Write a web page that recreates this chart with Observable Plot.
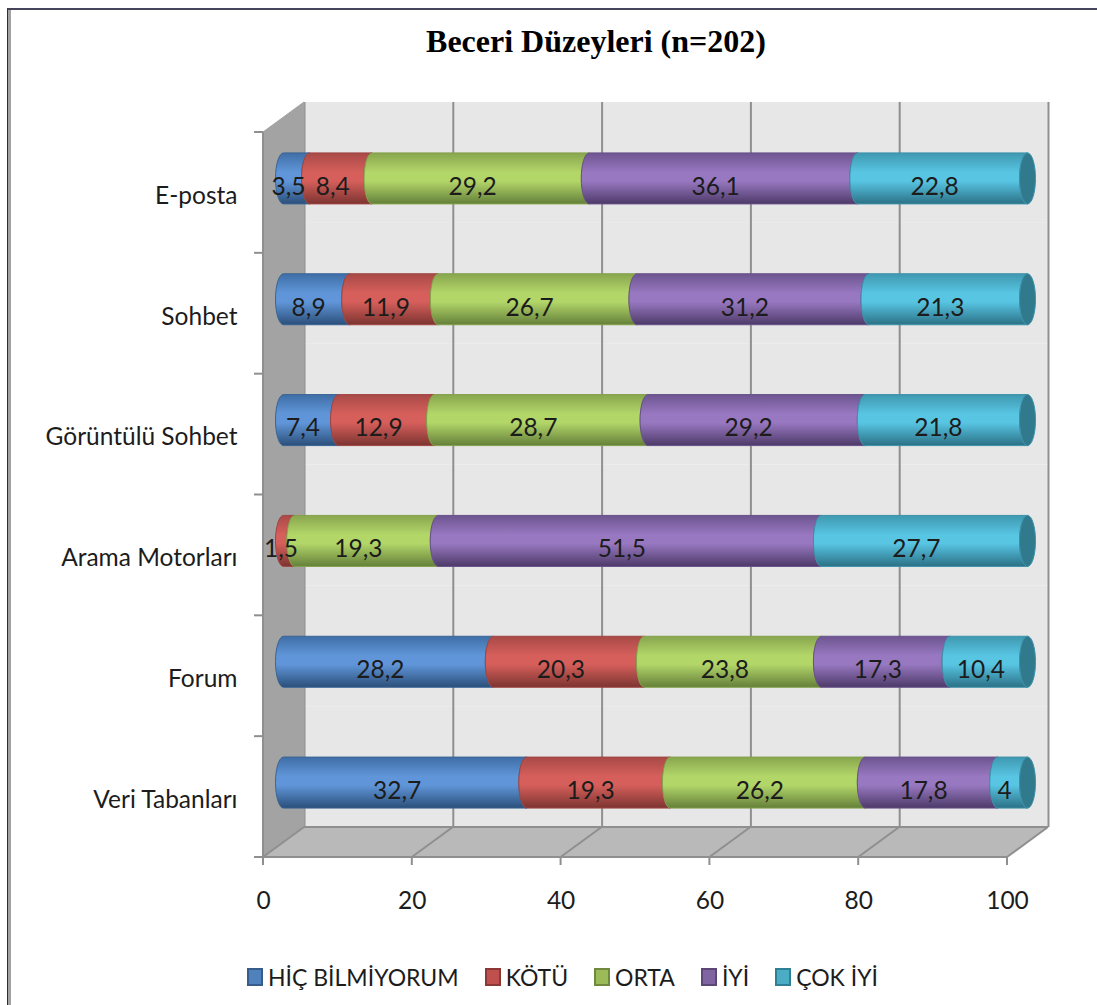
<!DOCTYPE html>
<html lang="tr">
<head>
<meta charset="utf-8">
<title>Beceri Düzeyleri</title>
<script src="https://cdn.jsdelivr.net/npm/d3@7"></script>
<script src="https://cdn.jsdelivr.net/npm/@observablehq/plot@0.6"></script>
<style>
  html, body { margin: 0; padding: 0; background: #fff; overflow: hidden; width: 1097px; height: 1005px; }
  #page { position: relative; width: 1097px; height: 1005px; font-family: Lato, sans-serif; color: #1c1c1c; }
  #frame { position: absolute; left: 7px; top: 8px; right: 0; bottom: 0; border-left: 1px solid #2c2c3c; border-top: 2px solid #44445a; box-shadow: inset 3px 0 0 #a2a2a2; pointer-events: none; }
  #title { position: absolute; left: 0; width: 1192px; top: 23px; text-align: center; font: bold 32px "Liberation Serif", serif; color: #000; }
  #chart { position: absolute; left: 0; top: 90px; }
  #legend { position: absolute; left: 247px; top: 963px; display: flex; align-items: center; font-size: 23px; line-height: 28px; white-space: nowrap; }
  #legend .item { display: flex; align-items: center; margin-right: 26px; }
  #legend .swatch { width: 12px; height: 14px; border: 2px solid; margin-right: 5px; }
</style>
</head>
<body>
<div id="page">
  <div id="frame"></div>
  <div id="title">Beceri Düzeyleri (n=202)</div>
  <div id="chart"></div>
  <div id="legend"></div>
</div>
<script>
// Skill categories, top to bottom
const skills = ["E-posta", "Sohbet", "Görüntülü Sohbet", "Arama Motorları", "Forum", "Veri Tabanları"];
const seriesNames = ["HİÇ BİLMİYORUM", "KÖTÜ", "ORTA", "İYİ", "ÇOK İYİ"];

// Percentages per level, in the order of the skills above
const hicBilmiyorum = [3.5, 8.9, 7.4, null, 28.2, 32.7];
const kotu = [8.4, 11.9, 12.9, 1.5, 20.3, 19.3];
const orta = [29.2, 26.7, 28.7, 19.3, 23.8, 26.2];
const iyi = [36.1, 31.2, 29.2, 51.5, 17.3, 17.8];
const cokIyi = [22.8, 21.3, 21.8, 27.7, 10.4, 4];
const xTicks = [0, 20, 40, 60, 80, 100];

// Cylinder shading: edge, highlight, lower edge, outline
const shades = [
  ["#3f6ea6", "#6096d9", "#2b4f7a", "#3a6494"],
  ["#a84a47", "#d65f5b", "#7c3431", "#a04542"],
  ["#88a64e", "#b3d669", "#64803a", "#84a04a"],
  ["#6d5590", "#9878c1", "#4d3a68", "#67508a"],
  ["#3f98b0", "#58c5e3", "#2b7186", "#3c92aa"]
];
const legendFill = ["#4f81bd", "#c0504d", "#9bbb59", "#8064a2", "#4bacc6"];
const legendEdge = ["#385d8a", "#8c3836", "#71893f", "#5c4776", "#2f7f95"];
const capFill = "#31798d";

// Oblique projection of the 3D box, in pixels
const depthX = 41, depthY = -30;
const barHeight = 51, capRadius = 8;

const columns = [hicBilmiyorum, kotu, orta, iyi, cokIyi];
const rows = [];
seriesNames.forEach((series, s) => skills.forEach((skill, k) => {
  if (columns[s][k] != null) rows.push({skill, series, s, value: columns[s][k]});
}));

const stacked = (extra) => Plot.stackX({x: "value", y: "skill", z: "series", order: seriesNames, ...extra});
const format = (v) => String(v).replace(".", ",");

// Side wall, floor, front ticks and the floor part of the grid
const box = (index, {x, y}) => {
  const g = d3.create("svg:g");
  const [x0, x100] = [x(0), x(100)];
  const band = y(skills[1]) - y(skills[0]);
  const top = y(skills[0]), bottom = top + band * skills.length;
  const poly = (pts) => d3.line()(pts) + "Z";
  g.append("path").attr("d", poly([[x0, top], [x0 + depthX, top + depthY], [x0 + depthX, bottom + depthY], [x0, bottom]]))
    .attr("fill", "#a3a3a3").attr("stroke", "#a3a3a3");
  g.append("path").attr("d", poly([[x0, bottom], [x100, bottom], [x100 + depthX, bottom + depthY], [x0 + depthX, bottom + depthY]]))
    .attr("fill", "#b9b9b9");
  const line = (x1, y1, x2, y2) => g.append("line")
    .attr("x1", x1).attr("y1", y1).attr("x2", x2).attr("y2", y2)
    .attr("stroke", "#8f8f8f").attr("stroke-width", 2);
  for (const t of xTicks) {
    line(x(t), bottom, x(t) + depthX, bottom + depthY);
    line(x(t), bottom, x(t), bottom + 8);
  }
  line(x0, top, x0, bottom);
  line(x0, bottom, x100, bottom);
  line(x0 + depthX, bottom + depthY, x100 + depthX, bottom + depthY);
  skills.forEach((s) => line(x0 - 9, y(s), x0, y(s)));
  line(x0 - 9, bottom, x0, bottom);
  return g.node();
};

// Stacked segments: each one ends in the visible half of a circular section
const cylinderSegments = (index, scales, values) => {
  const g = d3.create("svg:g");
  const band = scales.y(skills[1]) - scales.y(skills[0]);
  for (const i of index) {
    const x1 = values.x1[i] + depthX / 2, x2 = values.x2[i] + depthX / 2;
    const yTop = scales.y(rows[i].skill) + depthY / 2 + (band - barHeight) / 2 + 1;
    const r = barHeight / 2;
    const s = rows[i].s;
    g.append("path")
      .attr("d", `M${x1},${yTop}A${capRadius},${r} 0 0 0 ${x1},${yTop + barHeight}L${x2},${yTop + barHeight}A${capRadius},${r} 0 0 1 ${x2},${yTop}Z`)
      .attr("fill", `url(#cyl${s})`)
      .attr("stroke", shades[s][3])
      .attr("stroke-width", 1);
    if (s === seriesNames.length - 1) {
      g.append("ellipse")
        .attr("cx", x2).attr("cy", yTop + r).attr("rx", capRadius).attr("ry", r)
        .attr("fill", capFill).attr("stroke", shades[s][3]);
    }
  }
  return g.node();
};

const chart = Plot.plot({
  width: 1097,
  height: 830,
  marginLeft: 263,
  marginRight: 90,
  marginTop: 42,
  marginBottom: 63,
  style: {fontFamily: "Lato, sans-serif", color: "#1c1c1c", background: "transparent", overflow: "visible"},
  x: {domain: [0, 100]},
  y: {domain: skills, padding: 0, round: false},
  marks: [
    Plot.barX(skills, {x1: 0, x2: 100, y: (d) => d, fill: "#e7e7e7", dx: depthX, dy: depthY}),
    Plot.ruleX(xTicks, {x: (d) => d, stroke: "#8f8f8f", strokeWidth: 2, dx: depthX, dy: depthY}),
    box,
    Plot.barX(rows, stacked({render: cylinderSegments})),
    Plot.text(rows, stacked({text: (d) => format(d.value), fontSize: 24.5, fill: "#1c1c1c", dx: 12, dy: -6})),
    Plot.axisY({tickSize: 0, tickPadding: 26, fontSize: 24.5, label: null, dy: 3}),
    Plot.axisX({ticks: xTicks, tickSize: 8, tickPadding: 26, fontSize: 24.5, label: null, stroke: "none"})
  ]
});

// Vertical shading for the cylinders
const defs = d3.select(chart).append("defs");
shades.forEach((c, s) => {
  const grad = defs.append("linearGradient").attr("id", `cyl${s}`).attr("x1", 0).attr("y1", 0).attr("x2", 0).attr("y2", 1);
  [[0, c[0]], [0.38, c[1]], [0.55, c[1]], [1, c[2]]].forEach(([o, col]) =>
    grad.append("stop").attr("offset", o).attr("stop-color", col));
});
document.getElementById("chart").append(chart);

const legend = d3.select("#legend");
seriesNames.forEach((name, s) => {
  const item = legend.append("div").attr("class", "item");
  item.append("div").attr("class", "swatch").style("background", legendFill[s]).style("border-color", legendEdge[s]);
  item.append("div").text(name);
});
</script>
</body>
</html>
